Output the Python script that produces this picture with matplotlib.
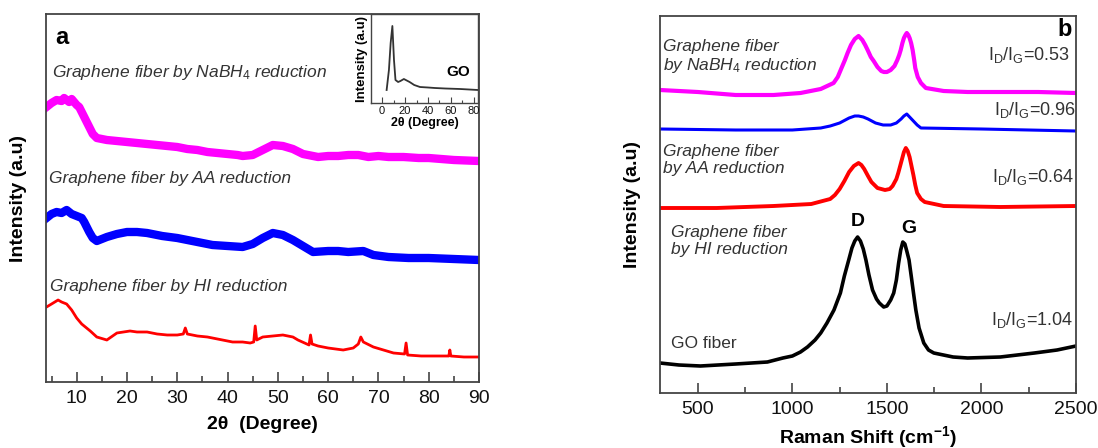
import matplotlib
matplotlib.use("Agg")
import matplotlib.pyplot as plt
from matplotlib.ticker import MultipleLocator

plt.rcParams['font.family'] = ['Liberation Sans', 'DejaVu Sans']
plt.rcParams['mathtext.fontset'] = 'custom'
plt.rcParams['mathtext.rm'] = 'Liberation Sans'
plt.rcParams['mathtext.it'] = 'Liberation Sans:italic'
plt.rcParams['mathtext.bf'] = 'Liberation Sans:bold'

# ---------------- Panel a: XRD ----------------
xrd_nabh4_x = [4, 5, 6, 7, 7.5, 8.5, 9, 10, 10.5, 11.5, 12.5, 13.2, 14, 16, 18, 20, 22, 24, 26, 28, 30, 32, 34, 36, 38, 40, 42, 43, 45, 47, 49, 51, 53, 55, 58, 60, 62, 64, 66, 68, 70, 72, 75, 78, 80, 85, 90]
xrd_nabh4_y = [275, 279, 282, 281, 284, 280, 283, 277, 275, 265, 255, 248, 244, 242, 241, 240, 239, 238, 237, 236, 235, 233, 232, 230, 229, 228, 227, 226, 227, 232, 237, 236, 233, 228, 225, 226, 226, 227, 227, 225, 226, 225, 225, 224, 224, 222, 221]

xrd_aa_x = [4, 5, 6, 7, 8, 9, 10, 11, 11.5, 12.5, 13.2, 14, 16, 18, 20, 22, 24, 27, 30, 33, 35, 37, 40, 43, 45, 47, 49, 51, 53, 55, 57, 60, 62, 64, 67, 69, 72, 76, 80, 85, 90]
xrd_aa_y = [164, 168, 170, 169, 172, 168, 166, 164, 160, 150, 144, 141, 145, 148, 150, 150, 149, 146, 144, 141, 139, 137, 136, 135, 138, 144, 149, 147, 142, 136, 130, 131, 131, 130, 131, 127, 125, 124, 124, 123, 122]

xrd_hi_x = [4, 5, 6.3, 7, 8, 9, 10, 11, 12.7, 14, 16, 18, 20.6, 22, 24, 26, 28, 30, 31.2, 31.6, 32, 34, 36, 38, 41, 43, 44.5, 45.2, 45.5, 45.8, 47, 49, 51, 53, 54, 56.2, 56.5, 56.8, 58, 60, 63, 65, 66, 66.5, 67, 69, 71, 73, 75.2, 75.5, 75.8, 78.5, 81, 84, 84.2, 84.4, 87, 90]
xrd_hi_y = [75, 78, 82, 80, 78, 72, 64, 58, 51, 45, 42, 49, 51, 50, 50, 48, 47, 47, 48, 54, 48, 46, 45, 43, 40, 40, 39, 40, 56, 42, 45, 46, 47, 45, 42, 37, 47, 38, 36, 34, 32, 34, 38, 45, 40, 35, 32, 29, 28, 39, 27, 26, 26, 26, 32, 26, 25, 25]

go_xrd_x = [4, 6, 7.5, 9, 10.4, 11.7, 14, 16, 19, 24, 28, 33, 40, 46, 55, 68, 83.5]
go_xrd_y = [13, 33, 60, 77, 43, 23, 21, 22, 24, 21, 18, 16, 15.5, 15, 14.5, 14, 13]

xrd_ticks = [10, 20, 30, 40, 50, 60, 70, 80, 90]
inset_ticks = [0, 20, 40, 60, 80]

# ---------------- Panel b: Raman ----------------
raman_nabh4_x = [300, 500, 700, 900, 1043, 1150, 1218, 1240, 1260, 1278, 1292, 1310, 1330, 1350, 1370, 1385, 1398, 1415, 1430, 1450, 1470, 1484, 1500, 1520, 1540, 1555, 1565, 1573, 1582, 1590, 1598, 1605, 1613, 1620, 1628, 1636, 1645, 1650, 1663, 1680, 1706, 1800, 1927, 2100, 2300, 2500]
raman_nabh4_y = [303, 301, 298, 298, 300, 304, 310, 316, 325, 333, 340, 348, 354, 357, 353, 348, 343, 336, 332, 326, 322, 321, 321, 323, 327, 333, 338, 343, 350, 355, 358, 360, 358, 355, 350, 343, 332, 325, 316, 310, 305, 302, 301, 301, 301, 300]

raman_blue_x = [300, 700, 1000, 1150, 1200, 1250, 1300, 1330, 1350, 1375, 1400, 1440, 1480, 1520, 1550, 1575, 1590, 1605, 1620, 1640, 1660, 1680, 2000, 2500]
raman_blue_y = [264, 263, 263, 265, 267, 270, 275, 277, 277, 276, 274, 270, 268, 268, 270, 274, 277, 279, 276, 272, 268, 265, 264, 262]

raman_aa_x = [300, 600, 900, 1100, 1200, 1225, 1250, 1275, 1300, 1325, 1350, 1365, 1380, 1400, 1418, 1450, 1490, 1515, 1530, 1550, 1560, 1570, 1580, 1590, 1600, 1610, 1620, 1630, 1640, 1650, 1660, 1680, 1700, 1800, 2100, 2500]
raman_aa_y = [185, 185, 187, 189, 194, 198, 204, 212, 221, 227, 230, 228, 224, 217, 211, 205, 203, 204, 207, 214, 220, 227, 234, 241, 245, 242, 236, 227, 218, 208, 200, 194, 191, 187, 186, 187]

raman_go_x = [300, 400, 514, 700, 868, 950, 1000, 1043, 1080, 1120, 1150, 1183, 1220, 1254, 1275, 1298, 1315, 1330, 1345, 1360, 1375, 1389, 1405, 1424, 1445, 1460, 1483, 1500, 1520, 1536, 1550, 1562, 1573, 1584, 1595, 1605, 1617, 1630, 1642, 1653, 1670, 1695, 1720, 1748, 1850, 1927, 2100, 2280, 2400, 2500]
raman_go_y = [30, 28, 27, 29, 31, 35, 37, 41, 46, 53, 60, 70, 83, 100, 117, 133, 145, 152, 156, 152, 144, 133, 118, 103, 94, 90, 86, 87, 93, 100, 113, 130, 143, 151, 149, 142, 133, 115, 98, 83, 65, 50, 43, 40, 36, 35, 36, 40, 43, 47]

raman_ticks = [500, 1000, 1500, 2000, 2500]

W, H = 1098, 448
fig = plt.figure(figsize=(W / 100, H / 100), dpi=100)

def frac(x0, y0, x1, y1):
    return [x0 / W, 1 - y1 / H, (x1 - x0) / W, (y1 - y0) / H]

def px(x, y):
    return x / W, 1 - y / H

spine_c = '#444444'
txt_c = '#333333'

def style(ax, lw=1.3):
    for s in ax.spines.values():
        s.set_color(spine_c)
        s.set_linewidth(lw)
    ax.tick_params(axis='x', which='both', direction='in', top=False, colors=spine_c, labelcolor='#111111')
    ax.set_yticks([])

# Panel a
axa = fig.add_axes(frac(46, 14, 479, 382))
axa.plot(xrd_nabh4_x, xrd_nabh4_y, color='#ff00ff', lw=6, solid_joinstyle='round')
axa.plot(xrd_aa_x, xrd_aa_y, color='#0000ff', lw=6, solid_joinstyle='round')
axa.plot(xrd_hi_x, xrd_hi_y, color='#ff0000', lw=2.0, solid_joinstyle='round')
axa.set_xlim(3.9, 90)
axa.set_ylim(0, 368)
style(axa)
axa.set_xticks(xrd_ticks)
axa.xaxis.set_minor_locator(MultipleLocator(5))
axa.tick_params(axis='x', which='major', length=7, width=1.2, labelsize=14, pad=6)
axa.tick_params(axis='x', which='minor', length=4, width=1.2)
axa.set_xlabel('2θ  (Degree)', fontsize=14, fontweight='bold', labelpad=6)
axa.set_ylabel('Intensity (a.u)', fontsize=14, fontweight='bold', labelpad=14)

fig.text(*px(55, 37), 'a', fontsize=17, fontweight='bold', va='center', ha='left')
fig.text(*px(52, 72), 'Graphene fiber by NaBH$_4$ reduction', fontsize=12.5, style='italic', color=txt_c, va='center')
fig.text(*px(49, 178), 'Graphene fiber by AA reduction', fontsize=12.5, style='italic', color=txt_c, va='center')
fig.text(*px(50, 287), 'Graphene fiber by HI reduction', fontsize=12.5, style='italic', color=txt_c, va='center')

# Inset
axi = fig.add_axes(frac(371, 14, 478, 103))
axi.plot(go_xrd_x, go_xrd_y, color='#333333', lw=1.3)
axi.set_xlim(-9.6, 83.5)
axi.set_ylim(0, 89)
style(axi, lw=1.0)
axi.set_xticks(inset_ticks)
axi.xaxis.set_minor_locator(MultipleLocator(10))
axi.tick_params(axis='x', which='major', length=4, width=0.8, labelsize=8, pad=2)
axi.tick_params(axis='x', which='minor', length=2, width=0.8)
axi.set_xlabel('2θ (Degree)', fontsize=9, fontweight='bold', labelpad=1)
axi.set_ylabel('Intensity (a.u)', fontsize=9.5, fontweight='bold', labelpad=2)
axi.text(0.93, 0.35, 'GO', transform=axi.transAxes, fontsize=11, fontweight='bold', ha='right', va='center')

# Panel b
axb = fig.add_axes(frac(660, 16, 1076, 393))
axb.plot(raman_nabh4_x, raman_nabh4_y, color='#ff00ff', lw=3)
axb.plot(raman_blue_x, raman_blue_y, color='#0000ff', lw=2.2)
axb.plot(raman_aa_x, raman_aa_y, color='#ff0000', lw=2.8)
axb.plot(raman_go_x, raman_go_y, color='#000000', lw=2.6)
axb.set_xlim(300, 2500)
axb.set_ylim(0, 377)
style(axb)
axb.set_xticks(raman_ticks)
axb.xaxis.set_minor_locator(MultipleLocator(250))
axb.tick_params(axis='x', which='major', length=7, width=1.2, labelsize=14, pad=6)
axb.tick_params(axis='x', which='minor', length=4, width=1.2)
axb.set_xlabel('Raman Shift (cm$^{\\mathbf{-1}}$)', fontsize=14, fontweight='bold', labelpad=4)
axb.set_ylabel('Intensity (a.u)', fontsize=14, fontweight='bold', labelpad=14)

ratio = 'I$_\\mathrm{D}$/I$_\\mathrm{G}$='
fig.text(*px(1072, 29), 'b', fontsize=17, fontweight='bold', va='center', ha='right')
fig.text(*px(663, 57), 'Graphene fiber\nby NaBH$_4$ reduction', fontsize=12.5, style='italic', color=txt_c, va='center', linespacing=1.1)
fig.text(*px(663, 160), 'Graphene fiber\nby AA reduction', fontsize=12.5, style='italic', color=txt_c, va='center', linespacing=1.1)
fig.text(*px(671, 241), 'Graphene fiber\nby HI reduction', fontsize=12.5, style='italic', color=txt_c, va='center', linespacing=1.1)
fig.text(*px(671, 343), 'GO fiber', fontsize=12.5, color=txt_c, va='center')
fig.text(*px(988, 55), ratio + '0.53', fontsize=13, color=txt_c, va='center')
fig.text(*px(994, 110), ratio + '0.96', fontsize=13, color=txt_c, va='center')
fig.text(*px(992, 177), ratio + '0.64', fontsize=13, color=txt_c, va='center')
fig.text(*px(991, 320), ratio + '1.04', fontsize=13, color=txt_c, va='center')
fig.text(*px(858, 221), 'D', fontsize=14, fontweight='bold', ha='center', va='center')
fig.text(*px(909, 228), 'G', fontsize=14, fontweight='bold', ha='center', va='center')

fig.savefig('out.png', dpi=100)
